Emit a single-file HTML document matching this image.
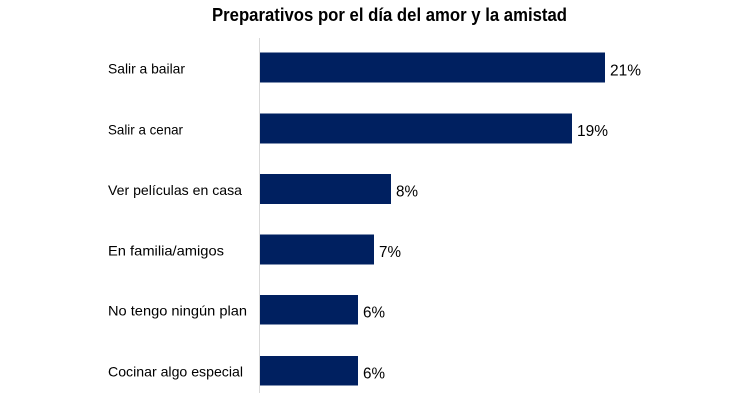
<!DOCTYPE html>
<html><head><meta charset="utf-8"><style>
html,body{margin:0;padding:0;background:#fff;}
svg{display:block;}
</style></head><body>
<svg width="754" height="402" viewBox="0 0 754 402" xmlns="http://www.w3.org/2000/svg">
<rect width="754" height="402" fill="#fff"/>
<text x="212" y="21" font-family="Liberation Sans, sans-serif" font-weight="bold" font-size="18" fill="#000" textLength="355" lengthAdjust="spacingAndGlyphs">Preparativos por el día del amor y la amistad</text>
<line x1="259.5" y1="38" x2="259.5" y2="393" stroke="#d9d9d9" stroke-width="1"/>
<g fill="#002060">
<rect x="260" y="52.5" width="345" height="30"/>
<rect x="260" y="113.5" width="312" height="30"/>
<rect x="260" y="174" width="131" height="30"/>
<rect x="260" y="234.5" width="114" height="30"/>
<rect x="260" y="295" width="98" height="29.5"/>
<rect x="260" y="356" width="98" height="29.5"/>
</g>
<g font-family="Liberation Sans, sans-serif" font-size="14" fill="#000">
<text x="108" y="73.5" textLength="77" lengthAdjust="spacingAndGlyphs">Salir a bailar</text>
<text x="108" y="134.5" textLength="75" lengthAdjust="spacingAndGlyphs">Salir a cenar</text>
<text x="108" y="195" textLength="134" lengthAdjust="spacingAndGlyphs">Ver películas en casa</text>
<text x="108" y="255.5" textLength="116" lengthAdjust="spacingAndGlyphs">En familia/amigos</text>
<text x="108" y="315.5" textLength="139" lengthAdjust="spacingAndGlyphs">No tengo ningún plan</text>
<text x="108" y="376.5" textLength="135" lengthAdjust="spacingAndGlyphs">Cocinar algo especial</text>
</g>
<g font-family="Liberation Sans, sans-serif" font-size="16" fill="#000">
<text x="610" y="75.5" textLength="31" lengthAdjust="spacingAndGlyphs">21%</text>
<text x="577" y="136" textLength="31" lengthAdjust="spacingAndGlyphs">19%</text>
<text x="396" y="196.5" textLength="22" lengthAdjust="spacingAndGlyphs">8%</text>
<text x="379" y="257" textLength="22" lengthAdjust="spacingAndGlyphs">7%</text>
<text x="363" y="317.5" textLength="22" lengthAdjust="spacingAndGlyphs">6%</text>
<text x="363" y="378.5" textLength="22" lengthAdjust="spacingAndGlyphs">6%</text>
</g>
</svg>
</body></html>
